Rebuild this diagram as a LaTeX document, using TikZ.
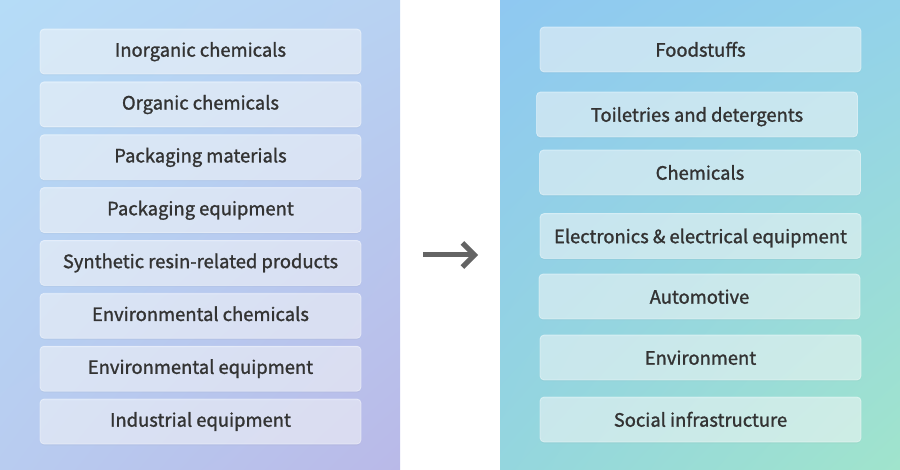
\documentclass[tikz,border=0pt]{standalone}
\usepackage{fontspec}
\setmainfont{Noto Sans CJK JP}[FakeBold=1.3]
\usetikzlibrary{positioning,arrows.meta,shadows,shadings}
\definecolor{txtgray}{HTML}{333333}
\definecolor{arrgray}{HTML}{646464}
\definecolor{lpTL}{HTML}{B5DCF7}
\definecolor{lpTR}{HTML}{B8D2F2}
\definecolor{lpBL}{HTML}{B8CCF0}
\definecolor{lpBR}{HTML}{B9B9E8}
\definecolor{rpTL}{HTML}{8FC8F1}
\definecolor{rpTR}{HTML}{93D2EA}
\definecolor{rpBL}{HTML}{94D6DE}
\definecolor{rpBR}{HTML}{A0E4CC}

\begin{document}
\begin{tikzpicture}[x=1pt, y=-1pt,
  itembox/.style={rectangle, rounded corners=4pt, minimum width=321pt, minimum height=45pt,
    fill=white, fill opacity=0.5, draw=white, draw opacity=0.45, line width=0.8pt,
    text opacity=1, text=txtgray, font=\fontsize{18.4}{20}\selectfont,
    text height=14pt, text depth=3.6pt, inner ysep=0pt,
    drop shadow={opacity=0.06, shadow xshift=0pt, shadow yshift=-1.5pt}},
  rightbox/.style={itembox, text height=16pt, text depth=1.6pt}]
  \useasboundingbox (0,0) rectangle (900,470);
  \fill[white] (0,0) rectangle (900,470);
  % panels
  \shade[upper left=lpTL, upper right=lpTR, lower left=lpBL, lower right=lpBR] (0,0) rectangle (400,470);
  \shade[upper left=rpTL, upper right=rpTR, lower left=rpBL, lower right=rpBR] (500,0) rectangle (900,470);
  % left items
  \foreach \i/\txt in {1/Inorganic chemicals, 2/Organic chemicals, 3/Packaging materials,
      4/Packaging equipment, 5/Synthetic resin-related products, 6/Environmental chemicals,
      7/Environmental equipment, 8/Industrial equipment} {
    \node[itembox] (l\i) at (200.5, {51.5+52.86*(\i-1)}) {\txt};
  }
  % right items
  \foreach \i/\xx/\yy/\txt in {1/700.5/49.5/Foodstuffs, 2/697/114.5/Toiletries and detergents,
      3/700/172.5/Chemicals, 4/700.5/236/Electronics \& electrical equipment,
      5/699.5/296.5/Automotive, 6/700.5/357.5/Environment, 7/700.5/419.5/Social infrastructure} {
    \node[rightbox] (r\i) at (\xx,\yy) {\txt};
  }
  % arrow
  \coordinate (arrs) at (423,255);
  \coordinate (arre) at (478,255);
  \draw[arrgray, line width=5pt, -{Straight Barb[length=12pt, width=24pt]}] (arrs) -- (arre);
\end{tikzpicture}
\end{document}
